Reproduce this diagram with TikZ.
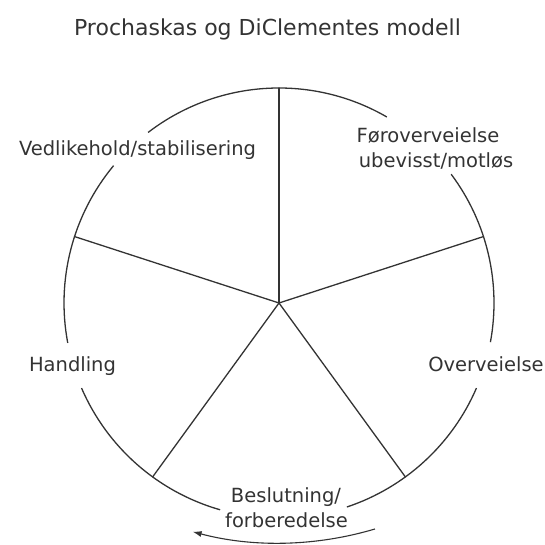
\documentclass[tikz,border=0pt]{standalone}
\usepackage{fontspec}
\setmainfont{DejaVu Sans}
\usetikzlibrary{arrows.meta,calc}
\definecolor{ink}{HTML}{333333}
\begin{document}
\begin{tikzpicture}[x=1pt,y=1pt,
  wheel/.style={draw=ink, line width=1.3pt},
  lbl/.style={text=ink, font=\fontsize{19.5}{24}\selectfont, inner sep=0pt, anchor=base},
  ttl/.style={text=ink, font=\fontsize{22}{26}\selectfont, inner sep=0pt, anchor=base}]
\useasboundingbox (0,0) rectangle (545,545);
\coordinate (c) at (279,242);
\foreach \a/\n in {90/p1,18/p2,-54/p3,-126/p4,162/p5}
  \coordinate (\n) at ($(c)+(\a:215pt)$);
\foreach \s/\e in {-10.5/36.8, 59.9/127.5, 140.3/190.7, 203.3/254.1, 288.4/336.7}
  \draw[wheel] ($(c)+(\s:215pt)$) arc[start angle=\s, end angle=\e, radius=215pt];
\foreach \n in {p1,p2,p3,p4,p5}
  \draw[wheel, line cap=round] (c) -- (\n);
\node[ttl] (title) at (267.5,509) {Prochaskas og DiClementes modell};
\node[lbl] (vedl) at (137.5,389) {Vedlikehold/stabilisering};
\node[lbl] (forov1) at (428,402) {Føroverveielse};
\node[lbl] (forov2) at (436,377) {ubevisst/motløs};
\node[lbl] (overv) at (486,173) {Overveielse};
\node[lbl] (handl) at (72.5,173) {Handling};
\node[lbl] (besl1) at (286,42) {Beslutning/};
\node[lbl] (besl2) at (286.5,17) {forberedelse};
\coordinate (ac) at (279,338);
\coordinate (astart) at ($(ac)+(-73.4:336pt)$);
\draw[wheel, line width=1.1pt, -{Latex[length=9pt,width=6pt]}] (astart) arc[start angle=-73.4, end angle=-104.9, radius=336pt] coordinate (aend);
\end{tikzpicture}
\end{document}
